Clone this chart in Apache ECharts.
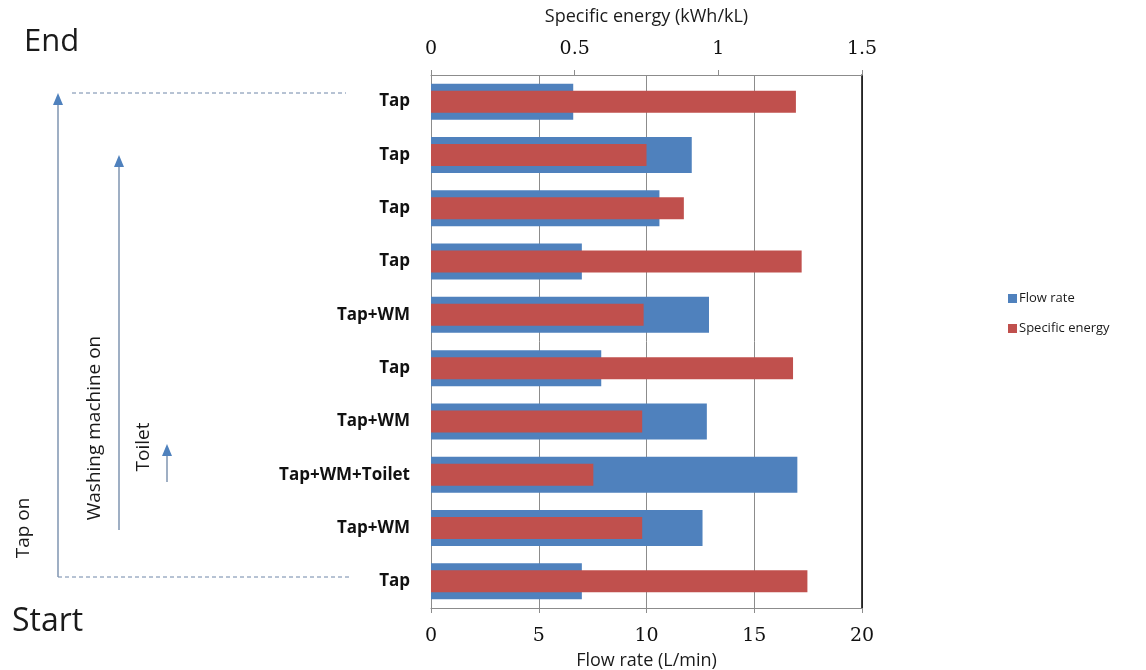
<!DOCTYPE html>
<html>
<head>
<meta charset="utf-8">
<script src="https://cdn.jsdelivr.net/npm/echarts@6/dist/echarts.min.js"></script>
<style>
  html, body { margin: 0; padding: 0; background: #ffffff; }
  #chart { width: 1146px; height: 670px; }
</style>
</head>
<body>
<div id="chart"></div>
<script>
// Usage states, listed from the last (top) to the first (bottom)
const categories = ['Tap', 'Tap', 'Tap', 'Tap', 'Tap+WM', 'Tap', 'Tap+WM', 'Tap+WM+Toilet', 'Tap+WM', 'Tap'];
// Flow rate in L/min
const flowRate = [6.6, 12.1, 10.6, 7.0, 12.9, 7.9, 12.8, 17.0, 12.6, 7.0];
// Specific energy in kWh/kL
const specificEnergy = [1.27, 0.75, 0.88, 1.29, 0.74, 1.26, 0.735, 0.565, 0.735, 1.31];

const BLUE = '#4f81bd';
const RED = '#c0504d';
const tickFont = '"DejaVu Serif", "Liberation Serif", serif';
const textFont = '"Open Sans", "Noto Sans", sans-serif';

const chart = echarts.init(document.getElementById('chart'), null, { renderer: 'canvas' });

const arrowHead = (x, yTip) => ({
  type: 'polygon',
  shape: { points: [[x, yTip], [x - 5, yTip + 12], [x + 5, yTip + 12]] },
  style: { fill: BLUE }
});
const vLine = (x, y1, y2) => ({
  type: 'line',
  shape: { x1: x, y1: y1, x2: x, y2: y2 },
  style: { stroke: '#7f95b0', lineWidth: 1.5 }
});
const dashLine = (x1, x2, y) => ({
  type: 'line',
  shape: { x1: x1, y1: y, x2: x2, y2: y },
  style: { stroke: '#6f86a8', lineWidth: 1, lineDash: [4, 3] }
});
const sideText = (x, y, text, size, rotate) => ({
  type: 'text',
  x: x, y: y,
  rotation: rotate ? Math.PI / 2 : 0,
  style: {
    text: text,
    font: size + 'px ' + textFont,
    fill: '#1a1a1a',
    align: rotate ? 'center' : 'left',
    verticalAlign: 'middle'
  }
});

chart.setOption({
  animation: false,
  backgroundColor: '#ffffff',
  grid: { left: 431, right: 284, top: 75, bottom: 62, containLabel: false, outerBoundsMode: 'none' },
  legend: {
    orient: 'vertical',
    left: 1003,
    top: 287,
    itemWidth: 9,
    itemHeight: 9,
    itemGap: 17,
    icon: 'rect',
    textStyle: { fontSize: 13, fontFamily: textFont, color: '#1a1a1a', padding: [0, 0, 0, -3] },
    data: ['Flow rate', 'Specific energy']
  },
  xAxis: [
    {
      type: 'value',
      position: 'bottom',
      min: 0, max: 20, interval: 5,
      name: 'Flow rate (L/min)',
      nameLocation: 'middle',
      nameGap: 44,
      nameTextStyle: { fontSize: 18, fontFamily: textFont, color: '#1a1a1a' },
      axisLine: { show: true, onZero: false, lineStyle: { color: '#8c8c8c', width: 1 } },
      axisTick: { show: true, length: 5, lineStyle: { color: '#8c8c8c' } },
      axisLabel: { fontSize: 19, fontFamily: tickFont, color: '#111', margin: 19 },
      splitLine: { show: true, lineStyle: { color: '#8c8c8c', width: 1 } }
    },
    {
      type: 'value',
      position: 'top',
      min: 0, max: 1.5, interval: 0.5,
      name: 'Specific energy (kWh/kL)',
      nameLocation: 'middle',
      nameGap: 49,
      nameTextStyle: { fontSize: 18, fontFamily: textFont, color: '#1a1a1a' },
      axisLine: { show: true, onZero: false, lineStyle: { color: '#8c8c8c', width: 1 } },
      axisTick: { show: true, length: 5, lineStyle: { color: '#8c8c8c' } },
      axisLabel: { fontSize: 19, fontFamily: tickFont, color: '#111', margin: 16 },
      splitLine: { show: false }
    }
  ],
  yAxis: [
    {
      type: 'category',
      inverse: true,
      position: 'left',
      data: categories,
      axisLine: { show: true, onZero: false, lineStyle: { color: '#8c8c8c', width: 1 } },
      axisTick: { show: false },
      axisLabel: { fontSize: 17, fontWeight: 'bold', fontFamily: textFont, color: '#111', margin: 21 },
      splitLine: { show: false }
    },
    {
      type: 'category',
      inverse: true,
      position: 'right',
      data: categories,
      axisLine: { show: true, onZero: false, lineStyle: { color: '#000000', width: 1.5 } },
      axisTick: { show: false },
      axisLabel: { show: false },
      splitLine: { show: false }
    }
  ],
  series: [
    {
      name: 'Flow rate',
      type: 'bar',
      xAxisIndex: 0,
      yAxisIndex: 0,
      data: flowRate,
      barWidth: 36,
      itemStyle: { color: BLUE },
      z: 2
    },
    {
      name: 'Specific energy',
      type: 'bar',
      xAxisIndex: 1,
      yAxisIndex: 1,
      data: specificEnergy,
      barWidth: 22,
      itemStyle: { color: RED },
      z: 3
    }
  ],
  graphic: [
    sideText(24, 42, 'End', 31, false),
    sideText(12, 622, 'Start', 32, false),
    dashLine(72, 346, 93),
    dashLine(58, 350, 577),
    vLine(58, 577, 104),
    arrowHead(58, 93),
    vLine(119, 530, 166),
    arrowHead(119, 155),
    vLine(167, 482, 455),
    arrowHead(167, 444),
    sideText(24, 528, 'Tap on', 19, true),
    sideText(95, 428, 'Washing machine on', 19, true),
    sideText(144, 447, 'Toilet', 19, true)
  ]
});
</script>
</body>
</html>
